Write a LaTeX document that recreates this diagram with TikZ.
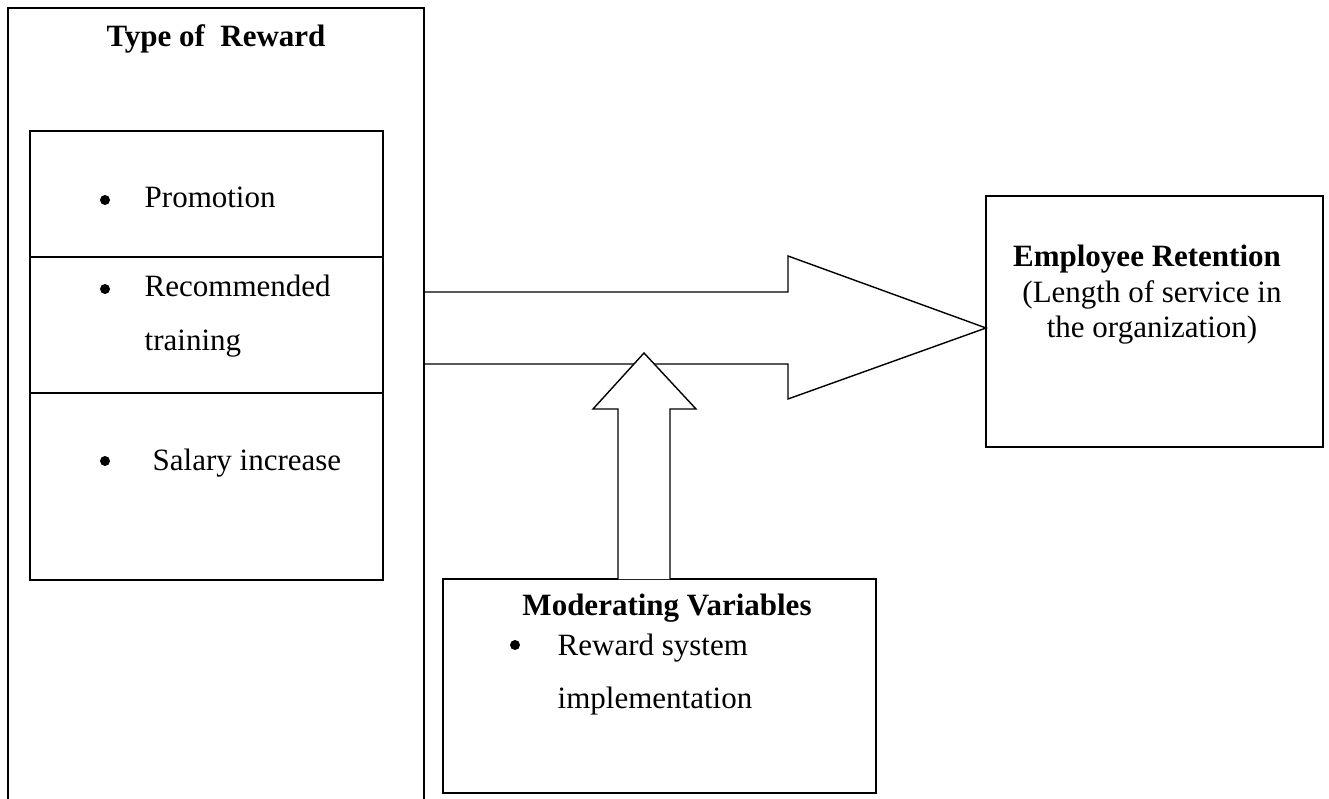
\documentclass[tikz,border=0pt]{standalone}
\usepackage{fontspec}
\setmainfont{Liberation Serif}
\begin{document}
\begin{tikzpicture}[x=1pt,y=-1pt,line width=1.4pt,
  font=\fontsize{31}{37}\selectfont,
  box/.style={draw,rectangle,inner sep=0pt,outer sep=0pt,anchor=north west},
  txt/.style={anchor=base west,inner sep=0pt},
  ctxt/.style={anchor=base,inner sep=0pt},
  bul/.style={fill,circle,inner sep=0pt,minimum size=10pt}]
\useasboundingbox (0,0) rectangle (1329,799);
% Employee retention box
\node[box,minimum width=337pt,minimum height=251pt] (er) at (986,196) {};
\node[ctxt,font=\fontsize{31}{37}\selectfont\bfseries] (er1) at (1147,267) {Employee Retention};
\node[ctxt] (er2) at (1152,302) {(Length of service in};
\node[ctxt] (er3) at (1152,337) {the organization)};
% big block arrow to employee retention
\coordinate (tip) at (er.west |- 0,328);
\coordinate (al) at (424,292);
\coordinate (bl) at (424,364);
\draw[fill=white] (al) -- (788,292) -- (788,256) -- (tip) -- (788,399) -- (788,364) -- (bl);
% outer "Type of Reward" frame (open at bottom)
\coordinate (ob1) at (8,800);
\coordinate (ob2) at (424,800);
\draw (ob1) -- (8,8) -- (424,8) -- (ob2);
\node[ctxt,font=\fontsize{31}{37}\selectfont\bfseries] (ttl) at (216,47) {Type of~ Reward};
% inner boxes
\node[box,minimum width=353pt,minimum height=126pt] (promo) at (30,131) {};
\node[box,minimum width=353pt,minimum height=136pt] (train) at (30,257) {};
\node[box,minimum width=353pt,minimum height=187pt] (sal) at (30,393) {};
\node[bul] (b1) at (105,200) {};
\node[txt] (t1) at (144,208) {Promotion};
\node[bul] (b2) at (105,289) {};
\node[txt] (t2a) at (144,297) {Recommended};
\node[txt] (t2b) at (144,350) {training};
\node[bul] (b3) at (105,461) {};
\node[txt] (t3) at (152,470) {Salary increase};
% Moderating variables box
\node[box,minimum width=433pt,minimum height=214pt] (mv) at (443,579) {};
\node[ctxt,font=\fontsize{31}{37}\selectfont\bfseries] (mv1) at (667,615) {Moderating Variables};
\node[bul] (b4) at (515,645) {};
\node[txt] (mv2) at (557,655) {Reward system};
\node[txt] (mv3) at (557,708) {implementation};
% up block arrow from moderating variables
\coordinate (ul) at (618,579);
\coordinate (ur) at (670,579);
\draw[fill=white] (ul) -- (618,409) -- (593,409) -- (644,353) -- (696,409) -- (670,409) -- (ur);
\end{tikzpicture}
\end{document}
